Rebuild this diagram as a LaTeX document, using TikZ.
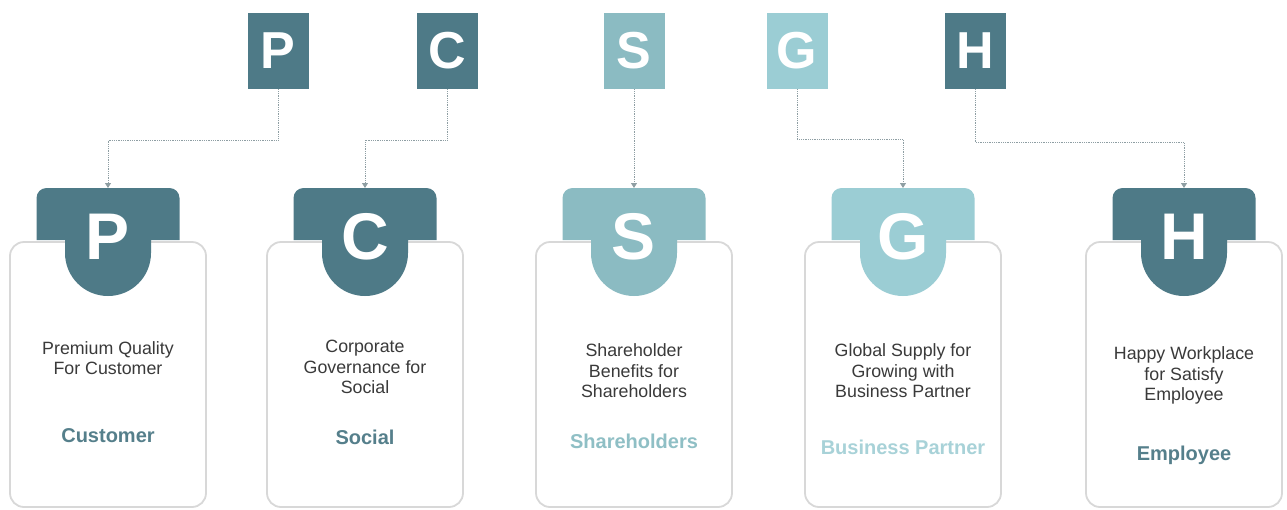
\documentclass[tikz,border=0pt]{standalone}
\usepackage{fontspec}
\setmainfont{Liberation Sans}
\usetikzlibrary{arrows.meta}
\definecolor{tealD}{HTML}{4E7A87}
\definecolor{tealS}{HTML}{8BBBC2}
\definecolor{tealG}{HTML}{9BCDD4}
\definecolor{labD}{HTML}{557F8B}
\definecolor{labS}{HTML}{8FBFC5}
\definecolor{labG}{HTML}{A8D2D8}
\definecolor{bodytxt}{HTML}{3A3A3A}
\definecolor{cardline}{HTML}{D8D8D8}
\definecolor{connline}{HTML}{8E9EA3}
\begin{document}
\begin{tikzpicture}[x=1pt,y=-1pt,
  sq/.style={rectangle, minimum width=61pt, minimum height=76pt, inner sep=0pt, text=white, font=\fontsize{52}{52}\selectfont\bfseries},
  card/.style={draw=cardline, line width=1.8pt, fill=white, rounded corners=14pt},
  tabletter/.style={text=white, font=\fontsize{66}{66}\selectfont\bfseries, inner sep=0pt},
  body/.style={align=center, text=bodytxt, font=\fontsize{17.8}{20.5}\selectfont, inner sep=0pt},
  lab/.style={font=\fontsize{20}{22}\selectfont\bfseries, inner sep=0pt, anchor=base},
  conn/.style={draw=connline, line width=0.8pt, densely dotted, -{Triangle[width=6pt,length=5pt,fill=connline]}},
]
\useasboundingbox (0,0) rectangle (1287,509);

% cards and tabs
\foreach \c/\col/\L in {108/tealD/P, 365/tealD/C, 634/tealS/S, 903/tealG/G, 1184/tealD/H}{
  \draw[card] (\c-98,242) rectangle (\c+98,507);
  \fill[\col] (\c-71.5,240) -- (\c-71.5,198) arc[start angle=180,end angle=270,radius=10]
     -- (\c+61.5,188) arc[start angle=270,end angle=360,radius=10]
     -- (\c+71.5,240) -- (\c+43,240) -- (\c+43,253) arc[start angle=0,end angle=180,radius=43]
     -- (\c-43,240) -- cycle;
  \node[tabletter] (tl\L) at (\c,237) {\L};
  \coordinate (tab\L) at (\c,188);
}

% top squares
\foreach \sx/\col/\L in {278/tealD/P, 447/tealD/C, 634/tealS/S, 797/tealG/G, 975/tealD/H}{
  \node[sq, fill=\col] (sq\L) at (\sx,51) {\L};
}

% connectors
\draw[conn] (sqP.south) -- ++(0,51) -| (tabP);
\draw[conn] (sqC.south) -- ++(0,51) -| (tabC);
\draw[conn] (sqS.south) -- (tabS);
\draw[conn] (sqG.south) -- ++(0,50) -| (tabG);
\draw[conn] (sqH.south) -- ++(0,53) -| (tabH);

% texts
\node[body] (tP) at (108,358) {Premium Quality\\For Customer};
\node[body] (tC) at (365,367) {Corporate\\Governance for\\Social};
\node[body] (tS) at (634,371) {Shareholder\\Benefits for\\Shareholders};
\node[body] (tG) at (903,371) {Global Supply for\\Growing with\\Business Partner};
\node[body] (tH) at (1184,375.5) {Happy Workplace\\for Satisfy\\Employee};

\node[lab, text=labD] (lP) at (108,442) {Customer};
\node[lab, text=labD] (lC) at (365,444) {Social};
\node[lab, text=labS] (lS) at (634,448) {Shareholders};
\node[lab, text=labG] (lG) at (903,454) {Business Partner};
\node[lab, text=labD] (lH) at (1184,460) {Employee};
\end{tikzpicture}
\end{document}
